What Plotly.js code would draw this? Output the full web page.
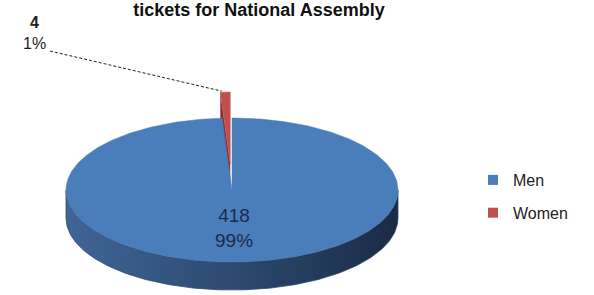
<!DOCTYPE html>
<html>
<head>
<meta charset="utf-8">
<script src="https://cdn.plot.ly/plotly-3.0.1.min.js"></script>
<style>html,body{margin:0;padding:0;background:#fff;}#chart{width:594px;height:295px;}</style>
</head>
<body>
<div id="chart"></div>
<script>
// ---- data ----
const titleText = 'tickets for National Assembly';
const categories = ['Men', 'Women'];
const values = [418, 4];
const topColors = ['#4A7EBB', '#C0504D'];
const wallColors = ['#2E4A6F', '#8A2E2C'];
const explode = [0, 0.36];

// ---- 3D pie geometry (layout, in pixel space of a 594x295 plot) ----
const cx = 232, cy = 190, rx = 166, ry = 72, depth = 28;
const total = values.reduce((a, b) => a + b, 0);
const rad = d => d * Math.PI / 180;

function pt(theta, r, off, dz) {
  return [cx + off[0] + r * rx * Math.sin(rad(theta)), cy + off[1] - r * ry * Math.cos(rad(theta)) + dz];
}

const slices = [];
let acc = 0;
values.forEach((v, i) => {
  const a0 = acc / total * 360, a1 = (acc + v) / total * 360;
  acc += v;
  const mid = (a0 + a1) / 2;
  const off = [explode[i] * rx * Math.sin(rad(mid)), -explode[i] * ry * Math.cos(rad(mid))];
  slices.push({ a0, a1, mid, off, i });
});

const traces = [];
const poly = (pts, color, lw, lc) => ({
  type: 'scatter', mode: 'lines', x: pts.map(p => p[0]), y: pts.map(p => p[1]),
  fill: 'toself', fillcolor: color, line: { color: lc || color, width: lw || 0 },
  hoverinfo: 'skip', showlegend: false
});

// walls of exploded slices (drawn first, behind the rest)
slices.forEach(s => {
  if (explode[s.i] > 0) {
    const c = pt(0, 0, s.off, 0), r = pt(s.a0, 1, s.off, 0);
    traces.push(poly([c, r, pt(s.a0, 1, s.off, depth), pt(0, 0, s.off, depth), c], wallColors[s.i]));
  }
});

// front side of slices (visible rim between 90 and 270 degrees), shaded left->right
const sideLight = ['#3F6597', '#8A3633'], sideMid = ['#2D4A70', '#74302E'], sideDark = ['#1A2B44', '#5E1F1E'];
slices.forEach(s => {
  const lo = Math.max(s.a0, 90), hi = Math.min(s.a1, 270);
  if (hi <= lo) return;
  const pts = [];
  const n = Math.ceil(hi - lo);
  for (let k = 0; k <= n; k++) pts.push(pt(lo + (hi - lo) * k / n, 1, s.off, 0));
  for (let k = n; k >= 0; k--) pts.push(pt(lo + (hi - lo) * k / n, 1, s.off, depth));
  pts.push(pts[0]);
  const tr = poly(pts, sideMid[s.i], 0.8, sideMid[s.i]);
  tr.fillgradient = { type: 'horizontal',
    colorscale: [[0, sideLight[s.i]], [0.5, sideMid[s.i]], [1, sideDark[s.i]]] };
  traces.push(tr);
});

// top faces: non-exploded first, exploded on top
const order = slices.slice().sort((a, b) => explode[a.i] - explode[b.i]);
order.forEach(s => {
  const pts = [pt(0, 0, s.off, 0)];
  const n = Math.max(2, Math.ceil((s.a1 - s.a0) / 1));
  for (let k = 0; k <= n; k++) pts.push(pt(s.a0 + (s.a1 - s.a0) * k / n, 1, s.off, 0));
  pts.push(pts[0]);
  traces.push(poly(pts, topColors[s.i], 0.5));
});

// legend entries
categories.forEach((c, i) => traces.push({
  type: 'scatter', mode: 'markers', x: [null], y: [null], name: c, legendgroup: c,
  marker: { symbol: 'square', size: 10, color: topColors[i] }, showlegend: true
}));

// leader line for the small slice
const sw = slices[1];
const lineEnd = pt(sw.a0 + 0.5, 1, sw.off, 0);
traces.push({
  type: 'scatter', mode: 'lines', x: [50, lineEnd[0]], y: [51, lineEnd[1] - 1],
  line: { color: '#222', width: 1, dash: '3px,2px' }, hoverinfo: 'skip', showlegend: false
});

// data labels
const pct = v => Math.round(v / total * 100) + '%';
const menPos = pt(slices[0].mid, 0.5, slices[0].off, 0);
const annotations = [
  { x: menPos[0], y: menPos[1] + 2,
    text: values[0] + '<br>' + pct(values[0]), showarrow: false, xanchor: 'center', yanchor: 'middle',
    font: { family: 'Liberation Sans, Arial, sans-serif', size: 19, color: '#1C2B4A' } },
  { x: 34, y: 33, text: '<b>' + values[1] + '</b><br>' + pct(values[1]), showarrow: false,
    xanchor: 'center', yanchor: 'middle',
    font: { family: 'Liberation Sans, Arial, sans-serif', size: 16, color: '#222' } }
];

const layout = {
  width: 594, height: 295,
  margin: { l: 0, r: 0, t: 0, b: 0 },
  paper_bgcolor: '#fff', plot_bgcolor: '#fff',
  title: { text: titleText, x: 259 / 594, xanchor: 'center', y: 1 - 10 / 295, yanchor: 'middle',
           yref: 'container', xref: 'container',
           font: { family: 'Liberation Sans, Arial, sans-serif', size: 18, color: '#111', weight: 'bold' } },
  xaxis: { range: [0, 594], visible: false, fixedrange: true },
  yaxis: { range: [295, 0], visible: false, fixedrange: true },
  showlegend: true,
  legend: { x: 473 / 594, y: 1 - 163 / 295, xanchor: 'left', yanchor: 'top',
            font: { family: 'Liberation Sans, Arial, sans-serif', size: 16, color: '#222' },
            tracegroupgap: 9, bgcolor: 'rgba(0,0,0,0)' },
  annotations: annotations
};

Plotly.newPlot('chart', traces, layout, { staticPlot: true, displayModeBar: false });
</script>
</body>
</html>
